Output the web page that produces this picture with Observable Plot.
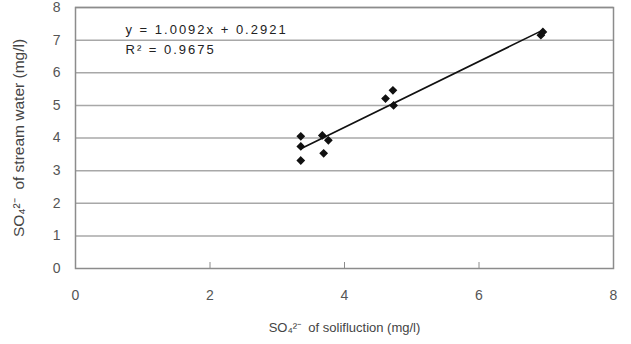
<!DOCTYPE html>
<html>
<head>
<meta charset="utf-8">
<script src="https://cdn.jsdelivr.net/npm/d3@7"></script>
<script src="https://cdn.jsdelivr.net/npm/@observablehq/plot@0.6"></script>
<style>
  html, body { margin: 0; padding: 0; background: #fff; }
  #chart svg { display: block; }
  #chart g[aria-description="equation"] text { letter-spacing: 2px; }
</style>
</head>
<body>
<div id="chart"></div>
<script>
// Data
const solifluction = [3.35, 3.35, 3.35, 3.67, 3.69, 3.76, 4.61, 4.72, 4.73, 6.92, 6.95];
const streamWater  = [4.05, 3.74, 3.31, 4.08, 3.53, 3.93, 5.21, 5.46, 5.00, 7.15, 7.25];
const slope = 1.0092;
const intercept = 0.2921;
const r2 = 0.9675;
const xTicks = [0, 2, 4, 6, 8];
const yTicks = [0, 1, 2, 3, 4, 5, 6, 7, 8];
const xInnerTicks = [2, 4, 6];
const xLabel = "SO₄²⁻  of solifluction (mg/l)";
const yLabel = "SO₄²⁻  of stream water (mg/l)";

const points = solifluction.map((x, i) => ({x, y: streamWater[i]}));
const xMin = d3.min(solifluction), xMax = d3.max(solifluction);
const fitLine = [xMin, xMax].map(x => ({x, y: slope * x + intercept}));
const eqText = `y = ${slope.toFixed(4)}x + ${intercept.toFixed(4)}\nR² = ${r2.toFixed(4)}`;

const chart = Plot.plot({
  width: 631,
  height: 344,
  marginLeft: 75,
  marginRight: 18,
  marginTop: 7,
  marginBottom: 76,
  style: {fontFamily: "'Liberation Sans', Arial, sans-serif", fontSize: "14px", color: "#333", background: "#fff"},
  x: {domain: [0, 8], axis: null},
  y: {domain: [0, 8], axis: null},
  marks: [
    Plot.ruleY(yTicks.slice(1), {stroke: "#a8a8a8", strokeWidth: 1.5}),
    Plot.frame({stroke: "#8c8c8c", strokeWidth: 1.5}),
    Plot.axisX({ticks: xInnerTicks, tickSize: -6, tickFormat: () => "", stroke: "#8c8c8c", label: null}),
    // x tick labels
    Plot.text(xTicks, {x: d => d, text: d => String(d), frameAnchor: "bottom", lineAnchor: "top", dy: 22,
      fill: "#555", fontSize: 14}),
    // y tick labels
    Plot.text(yTicks, {y: d => d, text: d => String(d), frameAnchor: "left", textAnchor: "end", dx: -15,
      fill: "#555", fontSize: 14}),
    // axis titles
    Plot.text([xLabel], {frameAnchor: "bottom", lineAnchor: "middle", dy: 59, fill: "#444", fontSize: 13}),
    Plot.text([yLabel], {frameAnchor: "left", rotate: -90, textAnchor: "middle", lineAnchor: "middle", dx: -56,
      fill: "#444", fontSize: 15.5}),
    Plot.line(fitLine, {x: "x", y: "y", stroke: "#111", strokeWidth: 1.6}),
    Plot.dot(points, {x: "x", y: "y", symbol: "diamond2", r: 3, fill: "#111", stroke: "#111"}),
    Plot.text([eqText], {frameAnchor: "top-left", dx: 50, dy: 13, lineAnchor: "top", lineHeight: 1.5,
      textAnchor: "start", fill: "#222", fontSize: 13, ariaDescription: "equation"})
  ]
});
document.getElementById("chart").append(chart);
</script>
</body>
</html>
